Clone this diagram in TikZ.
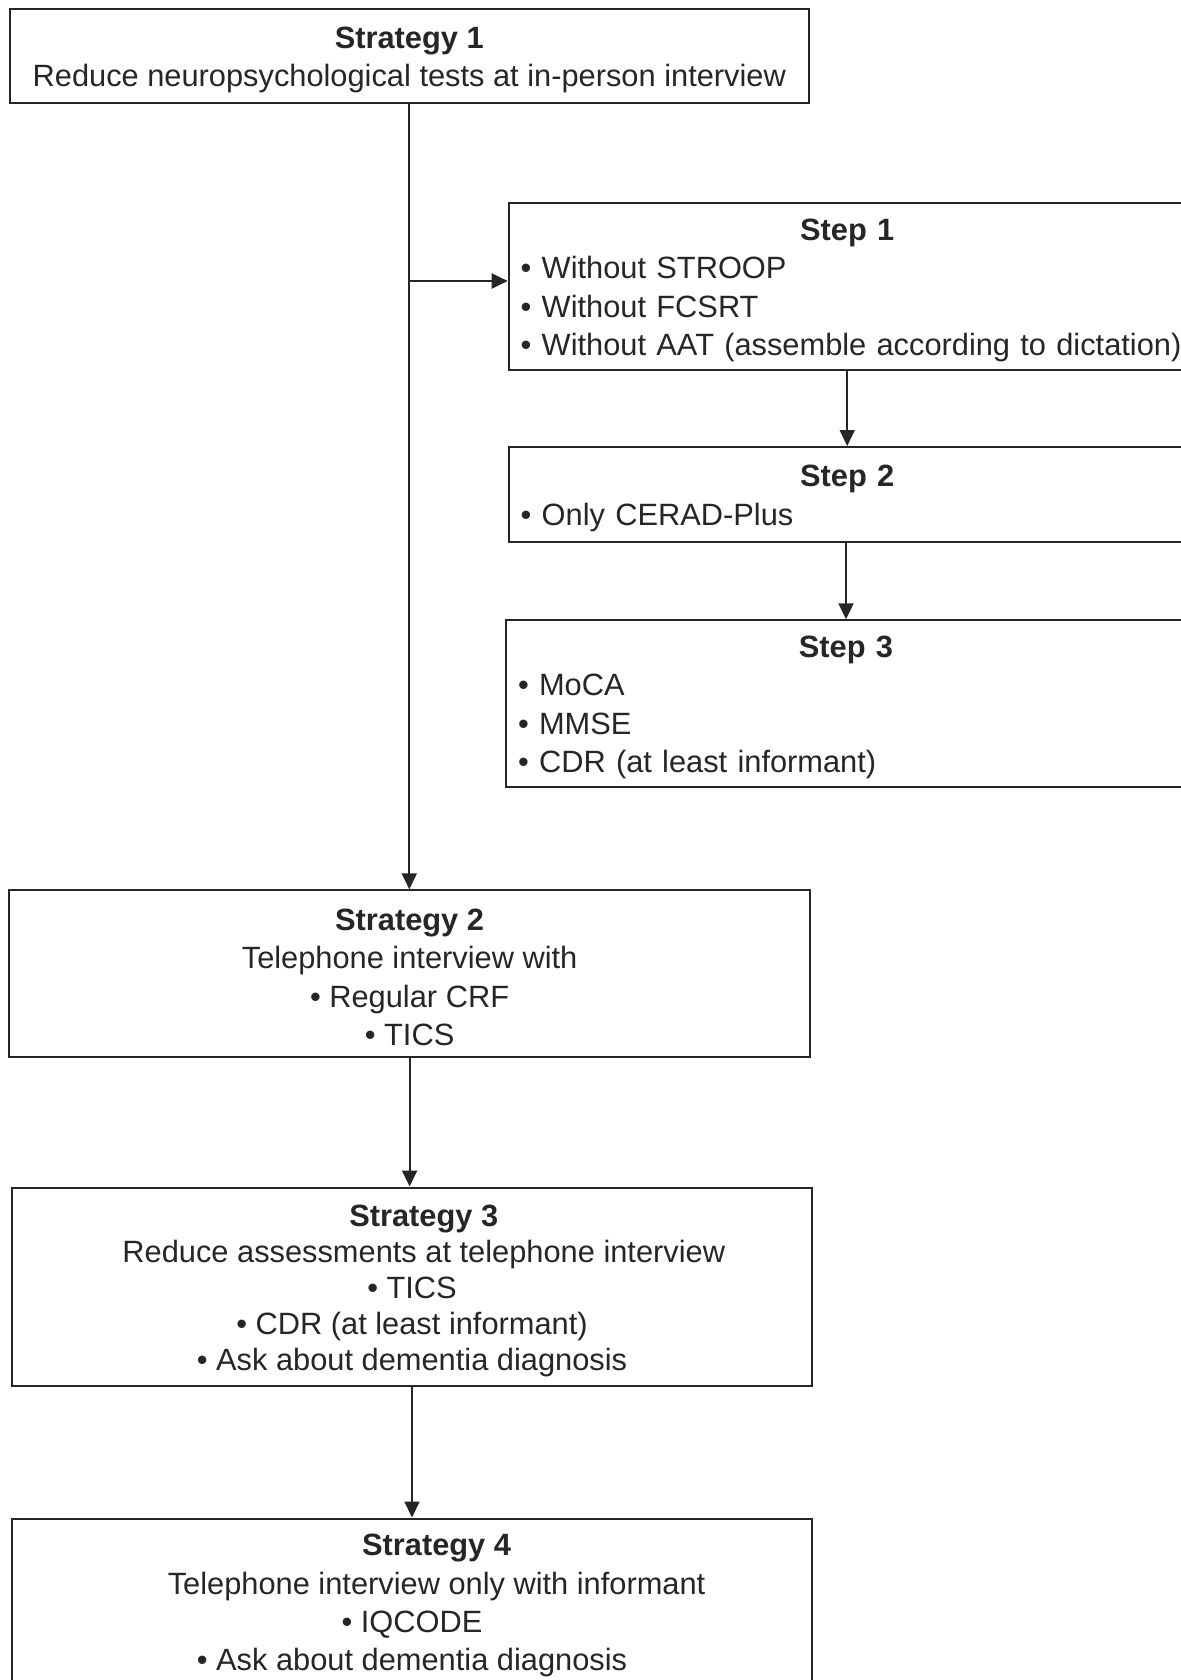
\documentclass[tikz,border=0pt]{standalone}
\usepackage{fontspec}
\setmainfont{Liberation Sans}
\usetikzlibrary{arrows.meta}
\definecolor{ink}{HTML}{262626}
\tikzset{
  box/.style={draw, line width=1pt, font=\fontsize{15.4}{19.2}\selectfont, anchor=north west},
  stratbox/.style={box, align=center, inner sep=0pt, minimum width=400.3pt},
  stepbox/.style={box, align=left, inner ysep=0pt, inner xsep=6pt, text width=326.5pt},
}
\newcommand{\boxtitle}[1]{\rule{0pt}{14.7pt}\textbf{#1}}
\newcommand{\steptitle}[1]{\hfill\boxtitle{#1}\hfill\null}

\begin{document}
\begin{tikzpicture}[x=0.5pt, y=-0.5pt, color=ink, line width=1pt, >={Triangle[length=8pt,width=7.5pt]}]
\useasboundingbox (0,0) rectangle (1181,1680);
\clip (0,0) rectangle (1181,1680);

% strategies
\node[stratbox, minimum width=399.8pt, minimum height=46.6pt] (s1) at (8.5,8.5)
  {\boxtitle{Strategy 1}\\Reduce neuropsychological tests at in-person interview};
\node[stratbox, minimum height=83.2pt] (s2) at (8.3,889.3)
  {\boxtitle{Strategy 2}\\Telephone interview with\\\textbullet{} Regular CRF\\\textbullet{} TICS};
\node[stratbox, minimum height=99pt, font=\fontsize{15.4}{18}\selectfont] (s3) at (10.7,1186.5)
  {\hspace*{11.8pt}\boxtitle{Strategy 3}\\\hspace*{11.8pt}Reduce assessments at telephone interview\\\textbullet{} TICS\\\textbullet{} CDR (at least informant)\\\textbullet{} Ask about dementia diagnosis};
\node[stratbox, minimum height=83.2pt] (s4) at (10.7,1517.5)
  {\hspace*{24.6pt}\boxtitle{Strategy 4}\\\hspace*{24.6pt}Telephone interview only with informant\\\textbullet{} IQCODE\\\textbullet{} Ask about dementia diagnosis};

% steps of strategy 1
\node[stepbox, minimum height=83.3pt] (step1) at (507.7,202.3)
  {\steptitle{Step 1}\\\textbullet{} Without STROOP\\\textbullet{} Without FCSRT\\\mbox{\textbullet{} Without AAT (assemble according to dictation)}};
\node[stepbox, minimum height=47.5pt] (step2) at (507.7,446)
  {\steptitle{Step 2}\\\textbullet{} Only CERAD-Plus};
\node[stepbox, text width=328pt, minimum height=83.2pt] (step3) at (505,619.3)
  {\steptitle{Step 3}\\\textbullet{} MoCA\\\textbullet{} MMSE\\\textbullet{} CDR (at least informant)};

\coordinate (br) at (s1.south |- 0,281);

\draw[->] (s1.south) -- (s1.south |- s2.north);
\draw[->] (br) -- (br -| step1.west);
\draw[->] (step1.south) -- (step2.north);
\draw[->] (step3.north |- step2.south) -- (step3.north);
\draw[->] (s2.south) -- (s2.south |- s3.north);
\draw[->] (s3.south) -- (s4.north);
\end{tikzpicture}
\end{document}
